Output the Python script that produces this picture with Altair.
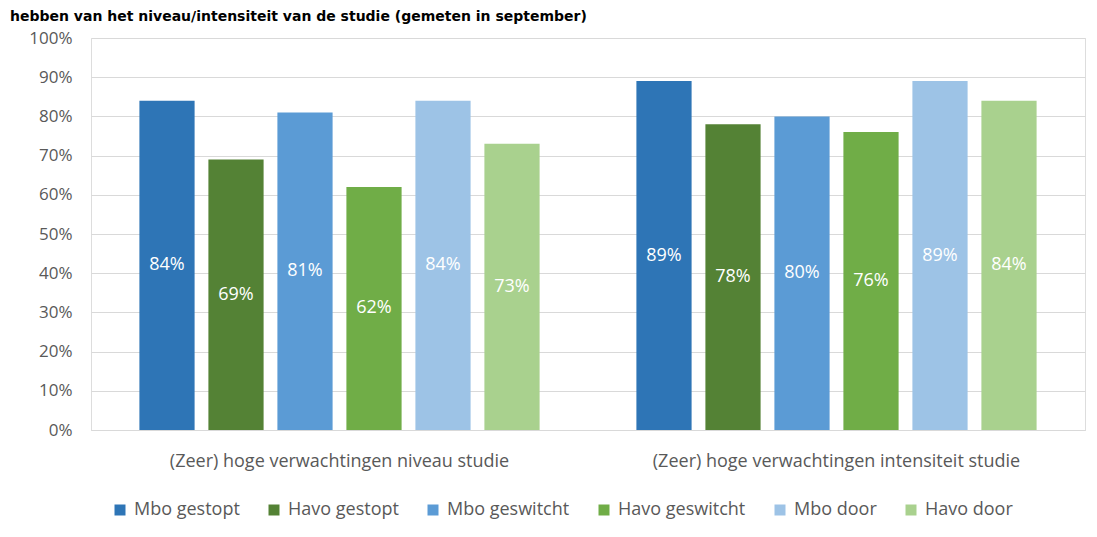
import altair as alt
import pandas as pd

categories = ["(Zeer) hoge verwachtingen niveau studie", "(Zeer) hoge verwachtingen intensiteit studie"]
series = ["Mbo gestopt", "Havo gestopt", "Mbo geswitcht", "Havo geswitcht", "Mbo door", "Havo door"]
niveau = [0.84, 0.69, 0.81, 0.62, 0.84, 0.73]
intensiteit = [0.89, 0.78, 0.80, 0.76, 0.89, 0.84]
colors = ["#2E75B6", "#548235", "#5B9BD5", "#70AD47", "#9DC3E6", "#A9D18E"]
y_ticks = [0, 0.1, 0.2, 0.3, 0.4, 0.5, 0.6, 0.7, 0.8, 0.9, 1.0]
title_text = "hebben van het niveau/intensiteit van de studie (gemeten in september)"

rows = []
for cat, vals in zip(categories, [niveau, intensiteit]):
    for s, v in zip(series, vals):
        rows.append({"categorie": cat, "groep": s, "waarde": v})
df = pd.DataFrame(rows)

FONT = "Open Sans"
GREY = "#595959"

y_axis = alt.Axis(format=".0%", values=y_ticks, labelOverlap=False,
                  labelFont=FONT, labelFontSize=17, labelColor=GREY,
                  labelPadding=19, ticks=False, domain=False,
                  gridColor="#D9D9D9", gridWidth=1)

base = alt.Chart(df).encode(
    x=alt.X("categorie:N", sort=categories, title=None,
            scale=alt.Scale(paddingInner=0.167, paddingOuter=0.0835),
            axis=alt.Axis(labelAngle=0, labelFont=FONT, labelFontSize=18, labelColor=GREY,
                          labelLimit=600, labelPadding=22, ticks=False,
                          domainColor="#D9D9D9", domainWidth=1)),
    xOffset=alt.XOffset("groep:N", sort=series,
                        scale=alt.Scale(paddingInner=0.2, paddingOuter=0.1)),
)

bars = base.mark_bar().encode(
    y=alt.Y("waarde:Q", title=None, scale=alt.Scale(domain=[0, 1]), axis=y_axis),
    color=alt.Color("groep:N", sort=series,
                    scale=alt.Scale(domain=series, range=colors),
                    legend=alt.Legend(title=None, orient="none", legendX=20, legendY=463,
                                      direction="horizontal", symbolType="square",
                                      symbolSize=121, symbolStrokeWidth=0,
                                      labelFont=FONT, labelFontSize=18, labelColor=GREY,
                                      columnPadding=25, labelOffset=5)),
)

labels = base.mark_text(color="white", font=FONT, fontSize=18, baseline="middle").transform_calculate(
    mid="datum.waarde / 2"
).encode(
    y=alt.Y("mid:Q", title=None, scale=alt.Scale(domain=[0, 1]), axis=y_axis),
    text=alt.Text("waarde:Q", format=".0%"),
)

chart = alt.layer(bars, labels).properties(
    width=994,
    height=392,
    title=alt.TitleParams(title_text, font="DejaVu Sans", fontWeight="bold", fontSize=14,
                          color="black", anchor="start", frame="group", dx=-81, offset=5),
    autosize=alt.AutoSizeParams(type="none"),
    padding={"left": 83, "top": 30, "right": 4, "bottom": 99},
).configure_view(stroke=None).configure(background="white")

chart.save("out.html", embed_options={"renderer": "svg", "actions": False})
